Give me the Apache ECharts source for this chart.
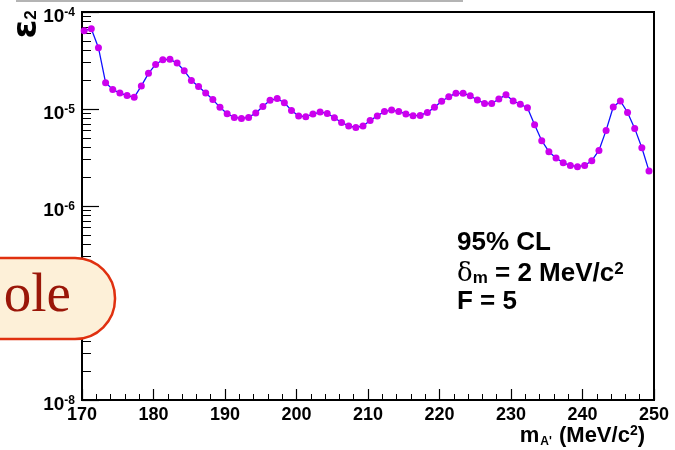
<!DOCTYPE html>
<html>
<head>
<meta charset="utf-8">
<script src="https://cdn.jsdelivr.net/npm/echarts@6/dist/echarts.min.js"></script>
<style>html,body{margin:0;padding:0;background:#fff}#c{width:675px;height:450px}</style>
</head>
<body>
<div id="c"></div>
<script>
// ---- data ----
const massValues = [170.3,171.3,172.3,173.3,174.3,175.3,176.3,177.3,178.3,179.3,
  180.3,181.3,182.3,183.3,184.3,185.3,186.3,187.3,188.3,189.3,
  190.3,191.3,192.3,193.3,194.3,195.3,196.3,197.3,198.3,199.3,
  200.3,201.3,202.3,203.3,204.3,205.3,206.3,207.3,208.3,209.3,
  210.3,211.3,212.3,213.3,214.3,215.3,216.3,217.3,218.3,219.3,
  220.3,221.3,222.3,223.3,224.3,225.3,226.3,227.3,228.3,229.3,
  230.3,231.3,232.3,233.3,234.3,235.3,236.3,237.3,238.3,239.3,
  240.3,241.3,242.3,243.3,244.3,245.3,246.3,247.3,248.3,249.3];
const eps2Values = [6.41e-5,6.73e-5,4.29e-5,1.87e-5,1.59e-5,1.46e-5,1.38e-5,1.32e-5,1.73e-5,2.33e-5,
  2.88e-5,3.22e-5,3.25e-5,2.98e-5,2.48e-5,1.97e-5,1.71e-5,1.46e-5,1.25e-5,1.04e-5,
  8.95e-6,8.19e-6,8.0e-6,8.19e-6,9.09e-6,1.06e-5,1.23e-5,1.28e-5,1.16e-5,9.67e-6,
  8.47e-6,8.33e-6,8.88e-6,9.31e-6,9.01e-6,8.13e-6,7.27e-6,6.68e-6,6.46e-6,6.68e-6,
  7.63e-6,8.47e-6,9.45e-6,9.76e-6,9.45e-6,8.88e-6,8.53e-6,8.59e-6,9.22e-6,1.04e-5,
  1.20e-5,1.34e-5,1.45e-5,1.45e-5,1.37e-5,1.24e-5,1.14e-5,1.14e-5,1.27e-5,1.40e-5,
  1.21e-5,1.12e-5,1.03e-5,6.89e-6,4.71e-6,3.63e-6,3.13e-6,2.79e-6,2.62e-6,2.54e-6,
  2.62e-6,2.93e-6,3.74e-6,6.02e-6,1.05e-5,1.21e-5,9.22e-6,6.31e-6,3.99e-6,2.30e-6];
const xTickLabels = ['170','180','190','200','210','220','230','240','250'];
const yMajorTicks = [1e-8,1e-7,1e-6,1e-5,1e-4];
const yMinorTicks = [];
[1e-8,1e-7,1e-6,1e-5].forEach(d => { for (let k = 2; k <= 9; k++) yMinorTicks.push(+(d*k).toPrecision(3)); });

const FONT = 'Liberation Sans, Arial, Helvetica, sans-serif';
const chart = echarts.init(document.getElementById('c'), null, {renderer: 'canvas'});

const yLabelFmt = v => {
  const e = Math.round(Math.log10(v));
  return '{b|10}{s|' + e + '}';
};

chart.setOption({
  animation: false,
  backgroundColor: '#fff',
  grid: {left: 82, right: 21, top: 12, bottom: 50, show: true, borderColor: '#000', borderWidth: 2, backgroundColor: 'transparent'},
  xAxis: {
    type: 'value', min: 170, max: 250, interval: 10,
    axisLine: {show: true, lineStyle: {color: '#000', width: 2}},
    axisTick: {show: true, inside: true, length: 11, lineStyle: {color: '#000', width: 1.2}},
    minorTick: {show: true, splitNumber: 5, length: 6, lineStyle: {color: '#000', width: 1}},
    splitLine: {show: false},
    axisLabel: {
      margin: 6, color: '#000', fontFamily: FONT, fontWeight: 'bold', fontSize: 18,
      formatter: v => xTickLabels[Math.round((v - 170) / 10)] || ''
    }
  },
  yAxis: [{
    type: 'log', logBase: 10, min: 1e-8, max: 1e-4,
    axisLine: {show: true, lineStyle: {color: '#000', width: 2}},
    axisTick: {show: true, inside: true, length: 17, customValues: yMajorTicks, lineStyle: {color: '#000', width: 1.2}},
    splitLine: {show: false},
    axisLabel: {
      margin: 7, color: '#000', customValues: yMajorTicks, formatter: yLabelFmt,
      padding: [10, 0, 0, 0],
      rich: {
        b: {fontFamily: FONT, fontWeight: 'bold', fontSize: 19, lineHeight: 20, color: '#000'},
        s: {fontFamily: FONT, fontWeight: 'bold', fontSize: 12, lineHeight: 12, verticalAlign: 'top', color: '#000'}
      }
    }
  }, {
    type: 'log', logBase: 10, min: 1e-8, max: 1e-4, position: 'left',
    axisLine: {show: false},
    axisTick: {show: true, inside: true, length: 9, customValues: yMinorTicks, lineStyle: {color: '#000', width: 1}},
    axisLabel: {show: false},
    splitLine: {show: false}
  }],
  series: [{
    type: 'line',
    data: massValues.map((m, i) => [m, eps2Values[i]]),
    lineStyle: {color: '#1010ff', width: 1.3},
    itemStyle: {color: '#cc00ee'},
    symbol: 'circle', symbolSize: 7, showSymbol: true,
    z: 5
  }],
  graphic: [
    {type: 'line', shape: {x1: 16, y1: 1, x2: 463, y2: 1}, style: {stroke: '#b4b4b4', lineWidth: 2}, z: 100},
    {type: 'rect', shape: {x: -40, y: 258, width: 155, height: 81, r: [0, 40, 40, 0]},
      style: {fill: '#fdf0d8', stroke: '#e0300f', lineWidth: 2.5}, z: 100},
    {type: 'text', x: 71, y: 297, z: 101,
      style: {text: 'ole', fill: '#9a1608', font: '55px "Liberation Serif", "Times New Roman", serif', textAlign: 'right', textVerticalAlign: 'middle'}},
    {type: 'text', x: 27, y: 29, rotation: Math.PI / 2, z: 100,
      style: {text: 'ε', font: 'bold 34px "DejaVu Sans", sans-serif', fill: '#000', textAlign: 'center', textVerticalAlign: 'middle'}},
    {type: 'text', x: 31, y: 15, rotation: Math.PI / 2, z: 100,
      style: {text: '2', font: 'bold 17px ' + FONT, fill: '#000', textAlign: 'center', textVerticalAlign: 'middle'}},
    {type: 'text', x: 645, y: 436, z: 100,
      style: {text: '{b|m}{u|A\'}{b| (MeV/c}{p|2}{b|)}', textAlign: 'right', textVerticalAlign: 'middle',
        rich: {b: {font: 'bold 22px ' + FONT, fill: '#000', lineHeight: 24},
               u: {font: 'bold 12px ' + FONT, fill: '#000', lineHeight: 10, verticalAlign: 'bottom', padding: [0, 1, 0, 1]},
               p: {font: 'bold 14px ' + FONT, fill: '#000', lineHeight: 14, verticalAlign: 'top'}}}},
    {type: 'text', x: 457, y: 243, z: 100,
      style: {text: '95% CL', font: 'bold 26px ' + FONT, fill: '#000', textAlign: 'left', textVerticalAlign: 'middle'}},
    {type: 'text', x: 457, y: 274, z: 100,
      style: {text: '{g|δ}{m|m}{b| = 2 MeV/c}{p|2}', textAlign: 'left', textVerticalAlign: 'middle',
        rich: {g: {font: '26px "DejaVu Serif", serif', fill: '#000', lineHeight: 26},
               m: {font: 'bold 17px ' + FONT, fill: '#000', lineHeight: 12, verticalAlign: 'bottom'},
               b: {font: 'bold 26px ' + FONT, fill: '#000', lineHeight: 26},
               p: {font: 'bold 17px ' + FONT, fill: '#000', lineHeight: 14, verticalAlign: 'top'}}}},
    {type: 'text', x: 457, y: 302, z: 100,
      style: {text: 'F = 5', font: 'bold 26px ' + FONT, fill: '#000', textAlign: 'left', textVerticalAlign: 'middle'}}
  ]
});
</script>
</body>
</html>
